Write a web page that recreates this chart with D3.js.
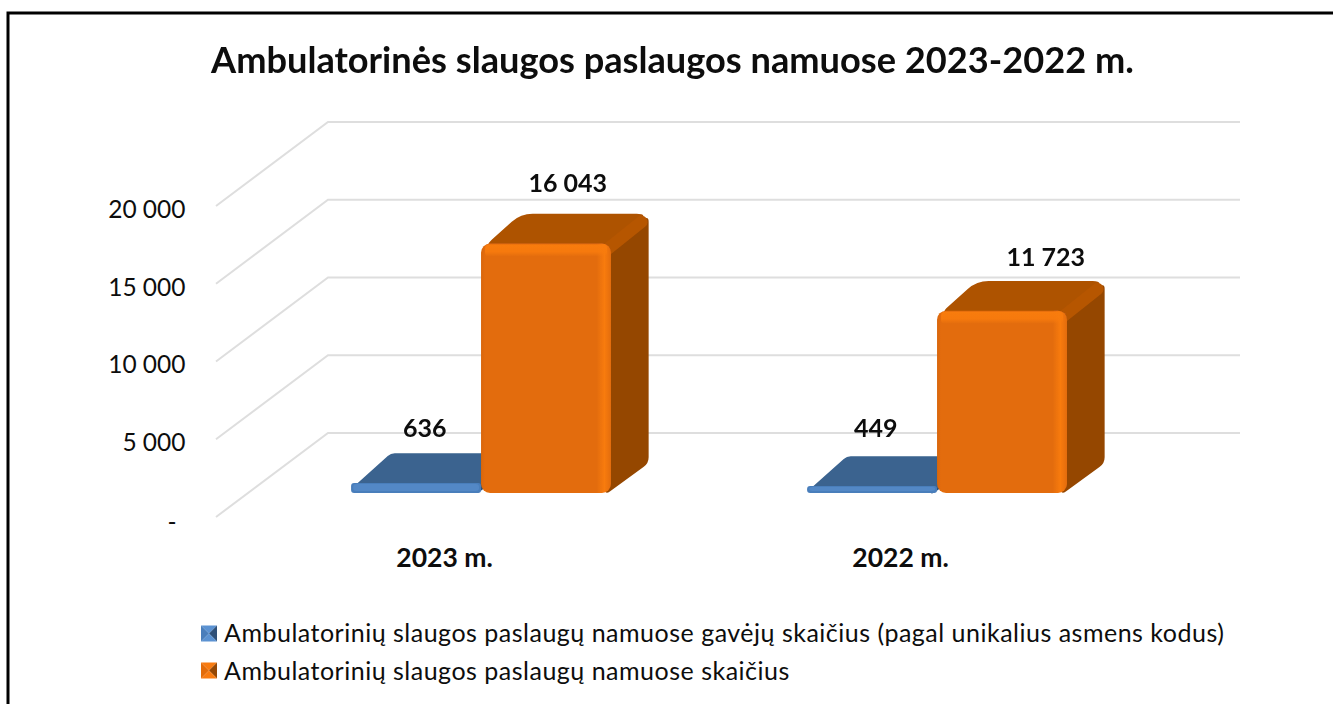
<!DOCTYPE html>
<html><head><meta charset="utf-8">
<script src="https://cdn.jsdelivr.net/npm/d3@7"></script>
<style>html,body{margin:0;padding:0;background:#fff}svg{display:block}text{font-family:Lato,"Open Sans",sans-serif;fill:#0d0d0d}</style>
</head><body><div id="c"></div>
<script>
const chartTitle = "Ambulatorinės slaugos paslaugos namuose 2023-2022 m.";
const categories = ["2023 m.", "2022 m."];
const seriesNames = ["Ambulatorinių slaugos paslaugų namuose gavėjų skaičius (pagal unikalius asmens kodus)", "Ambulatorinių slaugos paslaugų namuose skaičius"];
const recipients = [636, 449];
const services = [16043, 11723];
const tickValues = [0, 5000, 10000, 15000, 20000];

const W = 1333, H = 704;
const svg = d3.select("#c").append("svg").attr("width", W).attr("height", H);
const defs = svg.append("defs");
const blur = defs.append("filter").attr("id", "soft");
blur.append("feGaussianBlur").attr("stdDeviation", 0.7);

const palettes = [
  {id:"b", front:"#4A7EBB", top:"#3B638F", side:"#2F5078", hi:"#5B92D2", bevel:"#43709F"},
  {id:"o", front:"#E36C0A", top:"#AE5205", side:"#954703", hi:"#F87B10", bevel:"#B65606"}
];
palettes.forEach(p => {
  const h = defs.append("linearGradient").attr("id", "h" + p.id);
  [[0, "#D8660A", 1], [0.03, p.front, 1], [0.89, p.front, 1], [0.95, p.hi, 1], [1, p.front, 1]]
    .forEach(s => h.append("stop").attr("offset", s[0]).attr("stop-color", s[1]).attr("stop-opacity", s[2]));
  const v = defs.append("linearGradient").attr("id", "v" + p.id).attr("x2", 0).attr("y2", 1);
  [[0, p.hi, 1], [0.6, p.hi, 0.9], [1, p.hi, 0]]
    .forEach(s => v.append("stop").attr("offset", s[0]).attr("stop-color", s[1]).attr("stop-opacity", s[2]));
});

svg.append("rect").attr("width", W).attr("height", H).attr("fill", "#fff");
// frame: left and top rules
svg.append("path").attr("d", `M8 ${H}V13H${W}`).attr("fill", "none").attr("stroke", "#000").attr("stroke-width", 3);

const y = d3.scaleLinear().domain([0, 20000]).range([517, 206]);
const x0 = d3.scaleBand().domain(categories).range([221, 1133]).paddingInner(0.43).paddingOuter(0.215);
const x1 = d3.scaleBand().domain([0, 1]).range([0, x0.bandwidth()]);
const depth = {dx: 112, dy: -84, near: 0.286, far: 0.64};
const px = (x, z) => x + z * depth.dx;
const py = (v, z) => y(v) + z * depth.dy;

const fmt = v => v === 0 ? "-" : d3.format(",")(v).replace(/,/g, "\u00a0");

// gridlines, drawn on side wall and back wall
svg.append("g").selectAll("path").data(tickValues).join("path")
  .attr("d", v => d3.line()([[px(0, 0) + 216, py(v, 0)], [px(0, 1) + 216, py(v, 1)], [px(0, 1) + 1128, py(v, 1)]]))
  .attr("fill", "none").attr("stroke", "#dedede").attr("stroke-width", 2);

// value axis
const yAxis = d3.axisLeft(y).tickValues(tickValues).tickFormat(fmt).tickSize(0).tickPadding(0);
const axisG = svg.append("g").attr("transform", "translate(185.5,3.5)").call(yAxis);
axisG.select(".domain").remove();
axisG.selectAll("text").attr("font-size", 24.5).style("font-family", "Lato");
axisG.selectAll(".tick").filter(d => d === 0).select("text").attr("dx", -9).attr("dy", "0.4em");

// category labels
svg.append("g").selectAll("text").data(categories).join("text")
  .attr("x", d => x0(d) + x0.bandwidth() / 2 - 4.5).attr("y", 567)
  .attr("text-anchor", "middle").attr("font-size", 26.5).attr("font-weight", 700).text(d => d);

function roundedPoly(pts, r) {
  const n = pts.length; let d = "";
  pts.forEach((p, i) => {
    const a = pts[(i + n - 1) % n], b = pts[(i + 1) % n];
    const la = Math.hypot(a[0]-p[0], a[1]-p[1]), lb = Math.hypot(b[0]-p[0], b[1]-p[1]);
    const ra = Math.min(r, la/2)/la, rb = Math.min(r, lb/2)/lb;
    d += `${i ? "L" : "M"}${p[0]+(a[0]-p[0])*ra} ${p[1]+(a[1]-p[1])*ra}Q${p[0]} ${p[1]} ${p[0]+(b[0]-p[0])*rb} ${p[1]+(b[1]-p[1])*rb}`;
  });
  return d + "Z";
}

function drawBar(g, left, width, value, pal) {
  const tall = value > 5000;
  const r = tall ? 12 : 4;
  const xa = px(left, depth.near), xb = px(left + width, depth.near);
  const xc = px(left + width, depth.far), xd = px(left, depth.far);
  const yb = y(0) + depth.near * depth.dy, yt = py(value, depth.near);
  const ybb = y(0) + depth.far * depth.dy, ytb = py(value, depth.far);
  // side and top faces
  g.append("path").attr("d", roundedPoly([[xb - 6, yt + 4], [xc - 2, ytb + 2], [xc - 2, ybb], [xb - 6, yb + 2]], 6)).attr("fill", pal.side);
  g.append("path").attr("d", roundedPoly([[xa + 2, yt + 4], [xd, ytb], [xc - 2, ytb], [xb - 2, yt + 4]], r)).attr("fill", pal.top);
  if (tall) {
    // bevel along the top right edge of the side wall
    g.append("path").attr("d", d3.line()([[xb - 4, yt + 6], [xc - 9, ytb + 8]]))
      .attr("stroke", pal.bevel).attr("stroke-width", 12).attr("stroke-linecap", "round");
  }
  // front face
  const h = yb - yt;
  g.append("rect").attr("x", xa).attr("y", yt).attr("width", xb - xa).attr("height", h).attr("rx", tall ? 9 : 3)
    .attr("fill", tall ? `url(#h${pal.id})` : pal.front);
  if (tall) {
    g.append("rect").attr("x", xa + 4).attr("y", yt + 1).attr("width", xb - xa - 8).attr("height", 12).attr("rx", 4)
      .attr("fill", `url(#v${pal.id})`);
  } else {
    g.append("rect").attr("x", xa + 2).attr("y", yt + 1).attr("width", xb - xa - 4).attr("height", h - 3).attr("rx", 3).attr("fill", pal.hi).attr("opacity", .5);
  }
}

const marks = svg.append("g").attr("filter", "url(#soft)");
categories.forEach((c, i) => {
  drawBar(marks.append("g"), x0(c) + x1(0), x1.bandwidth(), recipients[i], palettes[0]);
  drawBar(marks.append("g"), x0(c) + x1(1), x1.bandwidth(), services[i], palettes[1]);
});

// data labels
const labelNudge = [[[-11, -16], [2, -22]], [[-16, -19], [24, -15]]];
categories.forEach((c, i) => {
  [recipients[i], services[i]].forEach((v, s) => {
    const cx = px(x0(c) + x1(s) + x1.bandwidth() / 2, (depth.near + depth.far) / 2);
    svg.append("text").attr("x", cx + labelNudge[i][s][0]).attr("y", py(v, depth.far) + labelNudge[i][s][1])
      .attr("text-anchor", "middle").attr("font-size", 25).attr("font-weight", 700).text(fmt(v));
  });
});

// title
svg.append("text").attr("x", 672.5).attr("y", 73).attr("text-anchor", "middle")
  .attr("font-size", 36.2).attr("font-weight", 700).text(chartTitle);

// legend
const legend = svg.append("g");
const pyramid = (s, pal) => {
  const m = [s / 2, s / 2];
  return [[[0,0],[s,0],m, pal.hi], [[s,0],[s,s],m, pal.side], [[s,s],[0,s],m, pal.hi], [[0,s],[0,0],m, pal.front]];
};
seriesNames.forEach((name, i) => {
  const s = 16, lx = 201, cy = 633.5 + i * 37, pal = palettes[i];
  const g = legend.append("g").attr("transform", `translate(${lx},${cy - s / 2})`);
  pyramid(s, pal).forEach(t => g.append("path").attr("d", d3.line()(t.slice(0, 3)) + "Z").attr("fill", t[3]));
  legend.append("text").attr("x", 224).attr("y", 642 + i * 38).attr("font-size", 25).attr("letter-spacing", 0.5).text(name);
});
</script></body></html>
